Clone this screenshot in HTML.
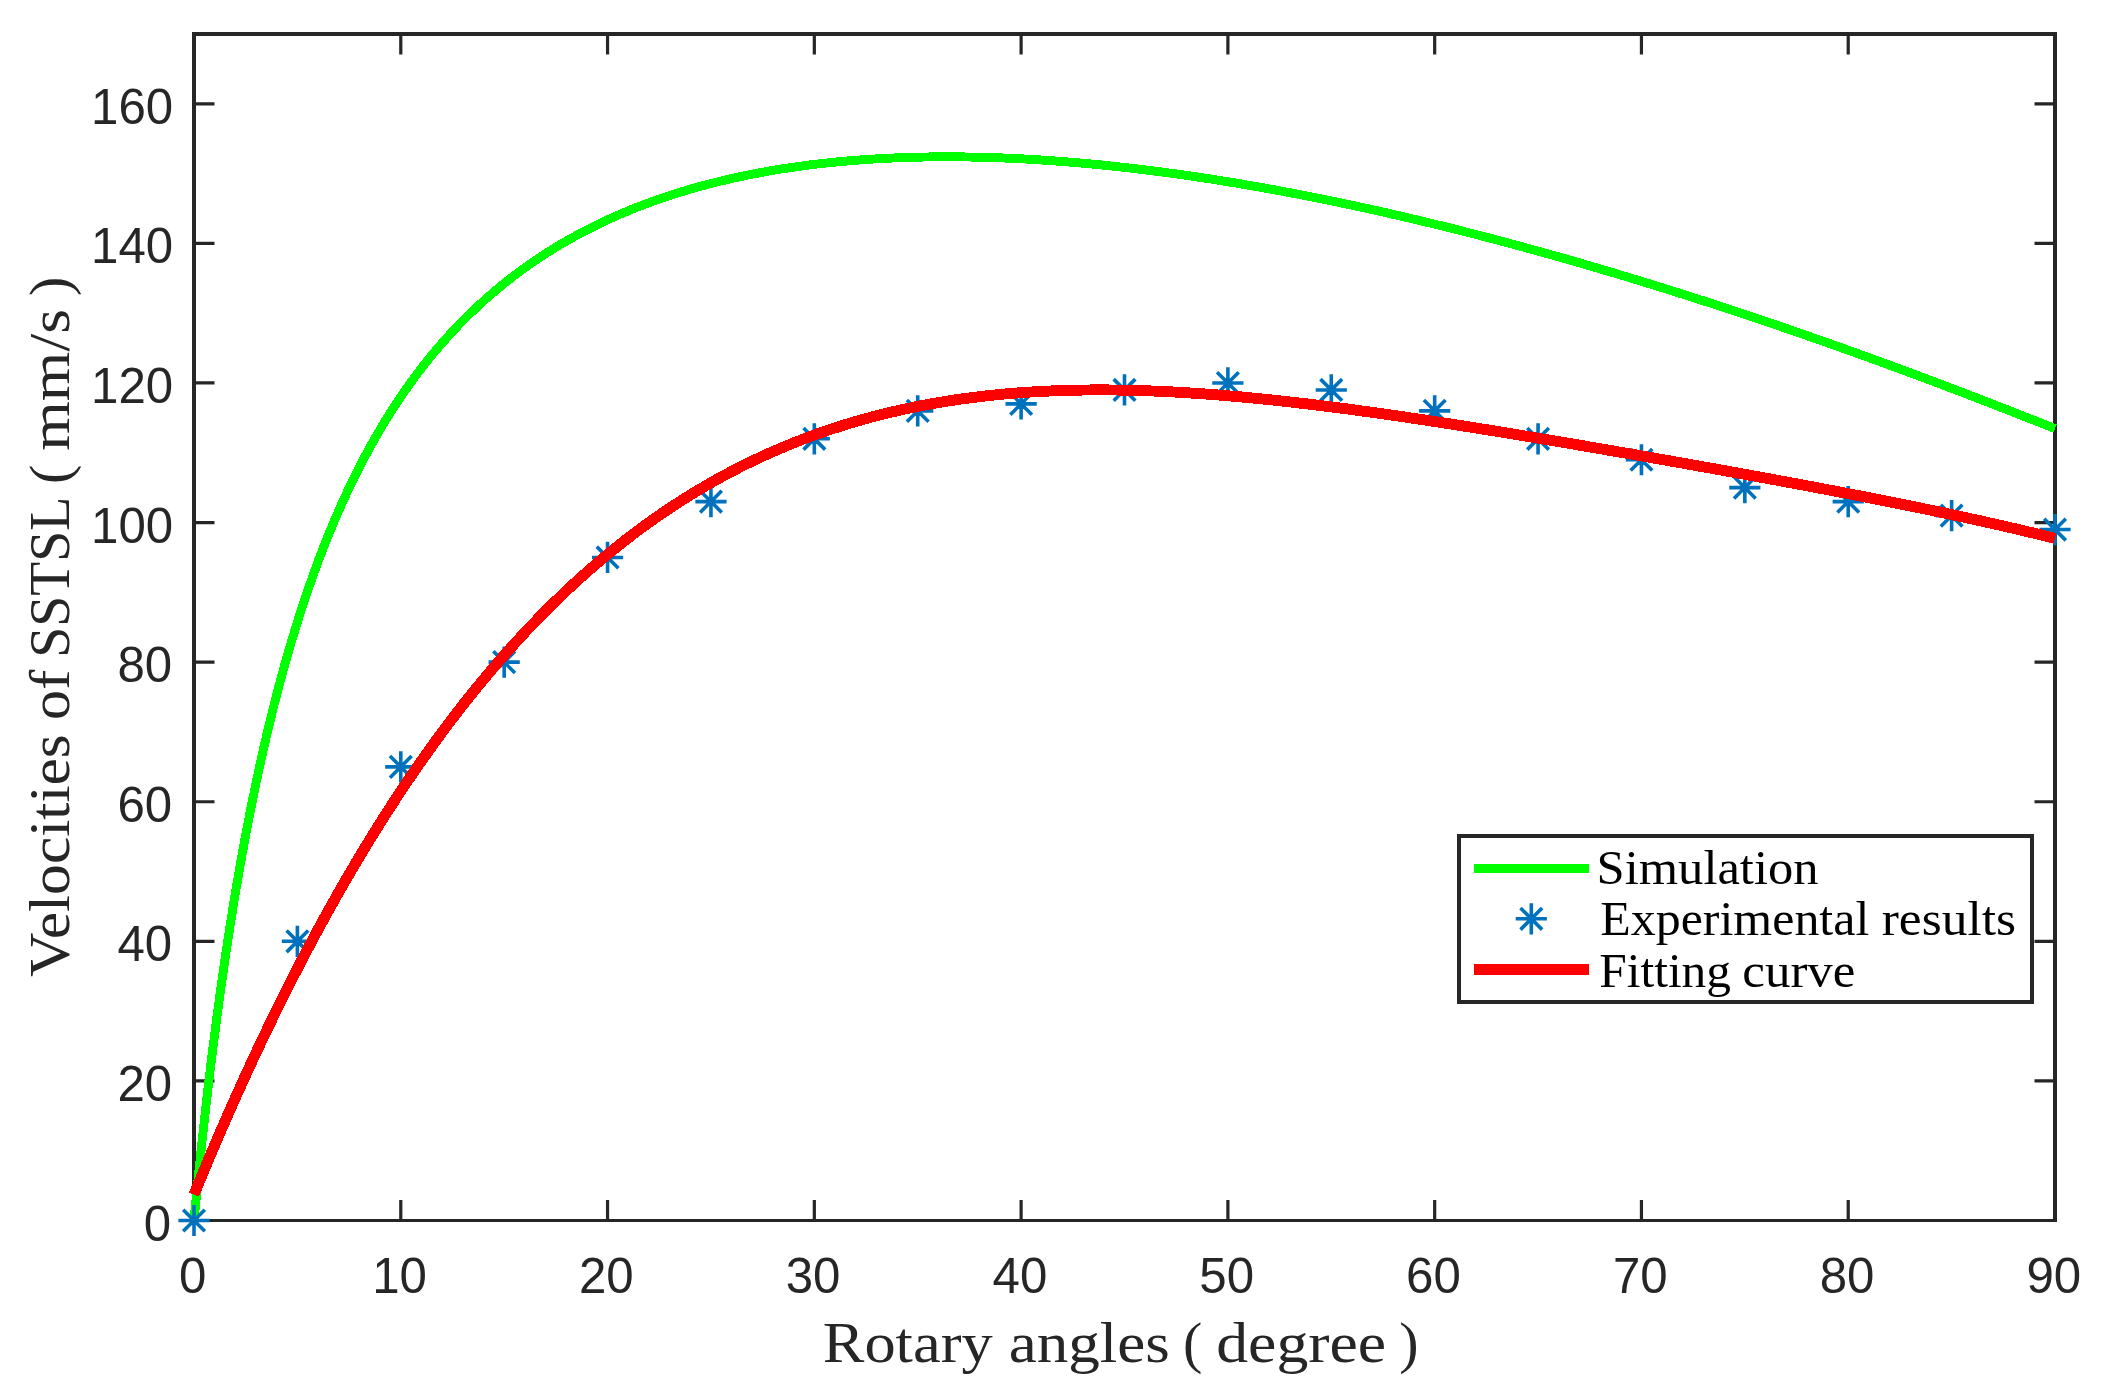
<!DOCTYPE html>
<html lang="en"><head><meta charset="utf-8"><title>Velocities of SSTSL vs rotary angles</title>
<style>html,body{margin:0;padding:0;background:#fff}body{width:2102px;height:1393px;overflow:hidden}svg{display:block}.tk{font-family:"Liberation Sans",Arial,Helvetica,sans-serif;font-size:49.2px;fill:#262626}.lb{font-family:"Liberation Serif","DejaVu Serif",serif;fill:#262626}.lg{font-family:"Liberation Serif","DejaVu Serif",serif;fill:#000}</style></head><body>
<svg width="2102" height="1393" viewBox="0 0 2102 1393">
<rect width="2102" height="1393" fill="#fff"/>
<g stroke="#262626" fill="none" shape-rendering="crispEdges">
<rect x="194.00" y="34.00" width="1861.00" height="1186.50" stroke-width="3.6"/>
<path d="M400.78,1220.50 v-20.50 M400.78,34.00 v20.50 M607.56,1220.50 v-20.50 M607.56,34.00 v20.50 M814.33,1220.50 v-20.50 M814.33,34.00 v20.50 M1021.11,1220.50 v-20.50 M1021.11,34.00 v20.50 M1227.89,1220.50 v-20.50 M1227.89,34.00 v20.50 M1434.67,1220.50 v-20.50 M1434.67,34.00 v20.50 M1641.44,1220.50 v-20.50 M1641.44,34.00 v20.50 M1848.22,1220.50 v-20.50 M1848.22,34.00 v20.50 M194.00,1080.91 h20.50 M2055.00,1080.91 h-20.50 M194.00,941.32 h20.50 M2055.00,941.32 h-20.50 M194.00,801.74 h20.50 M2055.00,801.74 h-20.50 M194.00,662.15 h20.50 M2055.00,662.15 h-20.50 M194.00,522.56 h20.50 M2055.00,522.56 h-20.50 M194.00,382.97 h20.50 M2055.00,382.97 h-20.50 M194.00,243.38 h20.50 M2055.00,243.38 h-20.50 M194.00,103.79 h20.50 M2055.00,103.79 h-20.50" stroke-width="3.2" shape-rendering="geometricPrecision"/>
</g>
<path d="M194.00,1220.50 L194.01,1220.38 L194.05,1220.01 L194.11,1219.40 L194.19,1218.55 L194.29,1217.45 L194.42,1216.11 L194.57,1214.54 L194.75,1212.72 L194.95,1210.67 L195.17,1208.38 L195.41,1205.87 L195.68,1203.12 L195.98,1200.15 L196.29,1196.96 L196.63,1193.54 L196.99,1189.91 L197.38,1186.07 L197.79,1182.02 L198.22,1177.77 L198.68,1173.31 L199.16,1168.66 L199.66,1163.82 L200.18,1158.79 L200.73,1153.58 L201.31,1148.20 L201.90,1142.64 L202.52,1136.91 L203.16,1131.02 L203.83,1124.98 L204.52,1118.79 L205.23,1112.45 L205.97,1105.97 L206.73,1099.35 L207.51,1092.61 L208.32,1085.74 L209.15,1078.75 L210.00,1071.65 L210.88,1064.44 L211.78,1057.13 L212.70,1049.72 L213.65,1042.22 L214.62,1034.64 L215.61,1026.97 L216.63,1019.23 L217.67,1011.42 L218.74,1003.54 L219.82,995.60 L220.93,987.60 L222.07,979.55 L223.22,971.46 L224.40,963.33 L225.61,955.15 L226.84,946.95 L228.09,938.72 L229.36,930.46 L230.66,922.18 L231.98,913.89 L233.32,905.58 L234.69,897.27 L236.08,888.95 L237.50,880.63 L238.93,872.31 L240.40,863.99 L241.88,855.69 L243.39,847.40 L244.92,839.12 L246.47,830.86 L248.05,822.62 L249.65,814.41 L251.28,806.21 L252.93,798.05 L254.60,789.92 L256.29,781.82 L258.01,773.76 L259.75,765.74 L261.52,757.75 L263.31,749.80 L265.12,741.90 L266.95,734.04 L268.81,726.23 L270.70,718.46 L272.60,710.75 L274.53,703.08 L276.48,695.47 L278.46,687.91 L280.46,680.40 L282.48,672.95 L284.52,665.55 L286.59,658.22 L288.69,650.93 L290.80,643.71 L292.94,636.55 L295.10,629.45 L297.29,622.40 L299.50,615.42 L301.73,608.50 L303.99,601.64 L306.27,594.85 L308.57,588.12 L310.90,581.45 L313.25,574.84 L315.62,568.30 L318.02,561.82 L320.43,555.40 L322.88,549.05 L325.34,542.76 L327.83,536.54 L330.35,530.38 L332.88,524.29 L335.44,518.26 L338.03,512.29 L340.63,506.39 L343.26,500.55 L345.92,494.77 L348.60,489.06 L351.30,483.41 L354.02,477.83 L356.77,472.30 L359.54,466.84 L362.33,461.45 L365.15,456.11 L367.99,450.84 L370.85,445.62 L373.74,440.47 L376.65,435.38 L379.58,430.35 L382.54,425.38 L385.52,420.47 L388.53,415.62 L391.55,410.82 L394.61,406.09 L397.68,401.41 L400.78,396.80 L403.90,392.24 L407.04,387.73 L410.21,383.29 L413.40,378.90 L416.62,374.56 L419.86,370.28 L423.12,366.06 L426.40,361.89 L429.71,357.77 L433.04,353.71 L436.40,349.70 L439.77,345.74 L443.18,341.84 L446.60,337.99 L450.05,334.19 L453.52,330.44 L457.02,326.74 L460.54,323.10 L464.08,319.50 L467.64,315.95 L471.23,312.45 L474.84,309.00 L478.48,305.60 L482.14,302.25 L485.82,298.94 L489.53,295.68 L493.25,292.47 L497.01,289.30 L500.78,286.18 L504.58,283.11 L508.40,280.08 L512.25,277.09 L516.12,274.15 L520.01,271.26 L523.93,268.41 L527.87,265.60 L531.83,262.83 L535.82,260.11 L539.83,257.43 L543.86,254.79 L547.92,252.19 L551.99,249.63 L556.10,247.12 L560.22,244.64 L564.37,242.21 L568.55,239.82 L572.74,237.46 L576.96,235.15 L581.21,232.87 L585.47,230.63 L589.76,228.43 L594.08,226.27 L598.41,224.15 L602.77,222.06 L607.16,220.02 L611.57,218.01 L616.00,216.03 L620.45,214.09 L624.93,212.19 L629.43,210.33 L633.95,208.50 L638.50,206.70 L643.07,204.94 L647.66,203.22 L652.28,201.53 L656.92,199.88 L661.59,198.26 L666.27,196.67 L670.98,195.12 L675.72,193.60 L680.48,192.11 L685.26,190.66 L690.06,189.24 L694.89,187.86 L699.74,186.50 L704.61,185.18 L709.51,183.89 L714.43,182.64 L719.38,181.41 L724.35,180.22 L729.34,179.06 L734.35,177.93 L739.39,176.83 L744.45,175.76 L749.54,174.72 L754.65,173.72 L759.78,172.74 L764.93,171.80 L770.11,170.88 L775.31,170.00 L780.54,169.14 L785.79,168.32 L791.06,167.52 L796.35,166.75 L801.67,166.02 L807.02,165.31 L812.38,164.63 L817.77,163.98 L823.18,163.36 L828.62,162.77 L834.08,162.21 L839.56,161.67 L845.07,161.17 L850.59,160.69 L856.15,160.24 L861.72,159.82 L867.32,159.43 L872.95,159.07 L878.59,158.73 L884.26,158.42 L889.95,158.14 L895.67,157.89 L901.41,157.66 L907.17,157.46 L912.96,157.29 L918.77,157.15 L924.60,157.03 L930.46,156.94 L936.34,156.88 L942.24,156.84 L948.17,156.83 L954.12,156.85 L960.09,156.90 L966.09,156.97 L972.11,157.07 L978.15,157.19 L984.22,157.35 L990.31,157.52 L996.42,157.73 L1002.56,157.96 L1008.72,158.22 L1014.90,158.50 L1021.11,158.81 L1027.34,159.15 L1033.60,159.51 L1039.87,159.90 L1046.17,160.32 L1052.50,160.76 L1058.85,161.23 L1065.22,161.72 L1071.61,162.24 L1078.03,162.78 L1084.47,163.35 L1090.93,163.95 L1097.42,164.57 L1103.93,165.22 L1110.47,165.90 L1117.02,166.60 L1123.61,167.32 L1130.21,168.08 L1136.84,168.85 L1143.49,169.66 L1150.16,170.49 L1156.86,171.34 L1163.58,172.22 L1170.33,173.13 L1177.10,174.06 L1183.89,175.01 L1190.70,176.00 L1197.54,177.01 L1204.40,178.04 L1211.29,179.10 L1218.20,180.18 L1225.13,181.29 L1232.09,182.43 L1239.06,183.59 L1246.07,184.78 L1253.09,185.99 L1260.14,187.23 L1267.21,188.49 L1274.31,189.78 L1281.43,191.09 L1288.57,192.43 L1295.74,193.80 L1302.92,195.19 L1310.14,196.60 L1317.37,198.04 L1324.63,199.51 L1331.91,201.00 L1339.22,202.52 L1346.55,204.06 L1353.90,205.63 L1361.28,207.23 L1368.68,208.85 L1376.10,210.49 L1383.55,212.16 L1391.02,213.86 L1398.51,215.58 L1406.03,217.32 L1413.57,219.10 L1421.13,220.89 L1428.72,222.72 L1436.33,224.57 L1443.96,226.44 L1451.62,228.34 L1459.30,230.26 L1467.00,232.22 L1474.73,234.19 L1482.48,236.19 L1490.25,238.22 L1498.05,240.27 L1505.87,242.35 L1513.71,244.45 L1521.58,246.58 L1529.47,248.74 L1537.38,250.92 L1545.32,253.12 L1553.28,255.36 L1561.27,257.61 L1569.27,259.90 L1577.30,262.20 L1585.36,264.54 L1593.44,266.90 L1601.54,269.28 L1609.66,271.69 L1617.81,274.13 L1625.98,276.59 L1634.17,279.08 L1642.39,281.59 L1650.63,284.13 L1658.90,286.70 L1667.18,289.29 L1675.50,291.90 L1683.83,294.54 L1692.19,297.21 L1700.57,299.90 L1708.98,302.62 L1717.40,305.36 L1725.86,308.13 L1734.33,310.93 L1742.83,313.75 L1751.35,316.60 L1759.90,319.47 L1768.46,322.37 L1777.06,325.29 L1785.67,328.24 L1794.31,331.22 L1802.97,334.22 L1811.66,337.24 L1820.37,340.29 L1829.10,343.37 L1837.85,346.48 L1846.63,349.61 L1855.43,352.76 L1864.26,355.94 L1873.11,359.15 L1881.98,362.38 L1890.88,365.64 L1899.80,368.92 L1908.74,372.23 L1917.71,375.56 L1926.69,378.92 L1935.71,382.31 L1944.74,385.72 L1953.80,389.16 L1962.89,392.62 L1971.99,396.11 L1981.12,399.62 L1990.27,403.16 L1999.45,406.72 L2008.65,410.31 L2017.87,413.93 L2027.12,417.57 L2036.39,421.24 L2045.68,424.93 L2055.00,428.65" fill="none" stroke="#00ff00" stroke-width="8.9" stroke-linejoin="round" shape-rendering="crispEdges"/>
<path d="M178.40,1220.50 h31.20 M194.00,1204.90 v31.20 M183.18,1209.68 l21.64,21.64 M183.18,1231.32 l21.64,-21.64 M281.79,941.32 h31.20 M297.39,925.72 v31.20 M286.57,930.50 l21.64,21.64 M286.57,952.14 l21.64,-21.64 M385.18,766.84 h31.20 M400.78,751.24 v31.20 M389.96,756.02 l21.64,21.64 M389.96,777.66 l21.64,-21.64 M488.57,662.15 h31.20 M504.17,646.55 v31.20 M493.35,651.33 l21.64,21.64 M493.35,672.97 l21.64,-21.64 M591.96,557.46 h31.20 M607.56,541.86 v31.20 M596.74,546.64 l21.64,21.64 M596.74,568.27 l21.64,-21.64 M695.34,501.62 h31.20 M710.94,486.02 v31.20 M700.13,490.80 l21.64,21.64 M700.13,512.44 l21.64,-21.64 M798.73,438.81 h31.20 M814.33,423.21 v31.20 M803.51,427.99 l21.64,21.64 M803.51,449.62 l21.64,-21.64 M902.12,410.89 h31.20 M917.72,395.29 v31.20 M906.90,400.07 l21.64,21.64 M906.90,421.71 l21.64,-21.64 M1005.51,403.91 h31.20 M1021.11,388.31 v31.20 M1010.29,393.09 l21.64,21.64 M1010.29,414.73 l21.64,-21.64 M1108.90,389.95 h31.20 M1124.50,374.35 v31.20 M1113.68,379.13 l21.64,21.64 M1113.68,400.77 l21.64,-21.64 M1212.29,382.97 h31.20 M1227.89,367.37 v31.20 M1217.07,372.15 l21.64,21.64 M1217.07,393.79 l21.64,-21.64 M1315.68,389.95 h31.20 M1331.28,374.35 v31.20 M1320.46,379.13 l21.64,21.64 M1320.46,400.77 l21.64,-21.64 M1419.07,410.89 h31.20 M1434.67,395.29 v31.20 M1423.85,400.07 l21.64,21.64 M1423.85,421.71 l21.64,-21.64 M1522.46,438.81 h31.20 M1538.06,423.21 v31.20 M1527.24,427.99 l21.64,21.64 M1527.24,449.62 l21.64,-21.64 M1625.84,459.74 h31.20 M1641.44,444.14 v31.20 M1630.63,448.93 l21.64,21.64 M1630.63,470.56 l21.64,-21.64 M1729.23,487.66 h31.20 M1744.83,472.06 v31.20 M1734.01,476.84 l21.64,21.64 M1734.01,498.48 l21.64,-21.64 M1832.62,501.62 h31.20 M1848.22,486.02 v31.20 M1837.40,490.80 l21.64,21.64 M1837.40,512.44 l21.64,-21.64 M1936.01,515.58 h31.20 M1951.61,499.98 v31.20 M1940.79,504.76 l21.64,21.64 M1940.79,526.40 l21.64,-21.64 M2039.40,529.54 h31.20 M2055.00,513.94 v31.20 M2044.18,518.72 l21.64,21.64 M2044.18,540.36 l21.64,-21.64" fill="none" stroke="#0072bd" stroke-width="3.6"/>
<path d="M194.00,1194.56 L200.22,1179.45 L206.45,1164.54 L212.67,1149.84 L218.90,1135.33 L225.12,1121.02 L231.34,1106.90 L237.57,1092.98 L243.79,1079.24 L250.02,1065.70 L256.24,1052.34 L262.46,1039.17 L268.69,1026.18 L274.91,1013.38 L281.14,1000.76 L287.36,988.32 L293.59,976.05 L299.81,963.96 L306.03,952.05 L312.26,940.31 L318.48,928.74 L324.71,917.34 L330.93,906.12 L337.15,895.05 L343.38,884.16 L349.60,873.42 L355.83,862.85 L362.05,852.44 L368.27,842.20 L374.50,832.10 L380.72,822.17 L386.95,812.39 L393.17,802.76 L399.39,793.29 L405.62,783.96 L411.84,774.79 L418.07,765.76 L424.29,756.88 L430.52,748.14 L436.74,739.55 L442.96,731.10 L449.19,722.79 L455.41,714.62 L461.64,706.58 L467.86,698.69 L474.08,690.92 L480.31,683.29 L486.53,675.80 L492.76,668.43 L498.98,661.20 L505.20,654.09 L511.43,647.11 L517.65,640.25 L523.88,633.52 L530.10,626.91 L536.32,620.42 L542.55,614.05 L548.77,607.80 L555.00,601.67 L561.22,595.66 L567.44,589.76 L573.67,583.97 L579.89,578.30 L586.12,572.73 L592.34,567.28 L598.57,561.94 L604.79,556.70 L611.01,551.57 L617.24,546.55 L623.46,541.63 L629.69,536.81 L635.91,532.09 L642.13,527.47 L648.36,522.95 L654.58,518.53 L660.81,514.21 L667.03,509.98 L673.25,505.85 L679.48,501.81 L685.70,497.86 L691.93,494.00 L698.15,490.24 L704.37,486.56 L710.60,482.97 L716.82,479.46 L723.05,476.04 L729.27,472.71 L735.49,469.45 L741.72,466.28 L747.94,463.20 L754.17,460.19 L760.39,457.26 L766.62,454.41 L772.84,451.63 L779.06,448.93 L785.29,446.31 L791.51,443.76 L797.74,441.28 L803.96,438.87 L810.18,436.54 L816.41,434.27 L822.63,432.08 L828.86,429.95 L835.08,427.89 L841.30,425.89 L847.53,423.96 L853.75,422.09 L859.98,420.29 L866.20,418.55 L872.42,416.87 L878.65,415.25 L884.87,413.69 L891.10,412.18 L897.32,410.74 L903.55,409.35 L909.77,408.02 L915.99,406.74 L922.22,405.52 L928.44,404.35 L934.67,403.23 L940.89,402.16 L947.11,401.15 L953.34,400.18 L959.56,399.27 L965.79,398.40 L972.01,397.58 L978.23,396.80 L984.46,396.07 L990.68,395.39 L996.91,394.75 L1003.13,394.15 L1009.35,393.60 L1015.58,393.09 L1021.80,392.62 L1028.03,392.19 L1034.25,391.80 L1040.47,391.45 L1046.70,391.14 L1052.92,390.86 L1059.15,390.62 L1065.37,390.42 L1071.60,390.25 L1077.82,390.12 L1084.04,390.02 L1090.27,389.96 L1096.49,389.92 L1102.72,389.92 L1108.94,389.96 L1115.16,390.02 L1121.39,390.11 L1127.61,390.23 L1133.84,390.38 L1140.06,390.56 L1146.28,390.77 L1152.51,391.00 L1158.73,391.26 L1164.96,391.55 L1171.18,391.86 L1177.40,392.20 L1183.63,392.56 L1189.85,392.94 L1196.08,393.35 L1202.30,393.78 L1208.53,394.23 L1214.75,394.70 L1220.97,395.19 L1227.20,395.71 L1233.42,396.24 L1239.65,396.80 L1245.87,397.37 L1252.09,397.96 L1258.32,398.57 L1264.54,399.19 L1270.77,399.84 L1276.99,400.50 L1283.21,401.17 L1289.44,401.87 L1295.66,402.57 L1301.89,403.29 L1308.11,404.03 L1314.33,404.78 L1320.56,405.54 L1326.78,406.32 L1333.01,407.11 L1339.23,407.91 L1345.45,408.73 L1351.68,409.55 L1357.90,410.39 L1364.13,411.24 L1370.35,412.10 L1376.58,412.96 L1382.80,413.84 L1389.02,414.73 L1395.25,415.63 L1401.47,416.54 L1407.70,417.45 L1413.92,418.38 L1420.14,419.31 L1426.37,420.25 L1432.59,421.19 L1438.82,422.15 L1445.04,423.11 L1451.26,424.08 L1457.49,425.05 L1463.71,426.03 L1469.94,427.02 L1476.16,428.01 L1482.38,429.01 L1488.61,430.01 L1494.83,431.02 L1501.06,432.03 L1507.28,433.05 L1513.51,434.08 L1519.73,435.10 L1525.95,436.13 L1532.18,437.17 L1538.40,438.21 L1544.63,439.25 L1550.85,440.30 L1557.07,441.35 L1563.30,442.40 L1569.52,443.46 L1575.75,444.52 L1581.97,445.58 L1588.19,446.65 L1594.42,447.72 L1600.64,448.79 L1606.87,449.87 L1613.09,450.94 L1619.31,452.02 L1625.54,453.11 L1631.76,454.19 L1637.99,455.28 L1644.21,456.37 L1650.43,457.46 L1656.66,458.55 L1662.88,459.65 L1669.11,460.75 L1675.33,461.85 L1681.56,462.96 L1687.78,464.06 L1694.00,465.17 L1700.23,466.28 L1706.45,467.40 L1712.68,468.51 L1718.90,469.63 L1725.12,470.75 L1731.35,471.88 L1737.57,473.01 L1743.80,474.14 L1750.02,475.27 L1756.24,476.41 L1762.47,477.55 L1768.69,478.69 L1774.92,479.84 L1781.14,480.99 L1787.36,482.14 L1793.59,483.30 L1799.81,484.46 L1806.04,485.62 L1812.26,486.79 L1818.48,487.97 L1824.71,489.15 L1830.93,490.33 L1837.16,491.52 L1843.38,492.72 L1849.61,493.92 L1855.83,495.12 L1862.05,496.33 L1868.28,497.55 L1874.50,498.77 L1880.73,500.00 L1886.95,501.24 L1893.17,502.49 L1899.40,503.74 L1905.62,505.00 L1911.85,506.27 L1918.07,507.54 L1924.29,508.83 L1930.52,510.12 L1936.74,511.42 L1942.97,512.73 L1949.19,514.05 L1955.41,515.38 L1961.64,516.73 L1967.86,518.08 L1974.09,519.44 L1980.31,520.82 L1986.54,522.21 L1992.76,523.60 L1998.98,525.02 L2005.21,526.44 L2011.43,527.88 L2017.66,529.33 L2023.88,530.80 L2030.10,532.28 L2036.33,533.77 L2042.55,535.29 L2048.78,536.81 L2055.00,538.36" fill="none" stroke="#ff0000" stroke-width="10.9" stroke-linejoin="round" shape-rendering="crispEdges"/>
<g class="tk" text-anchor="middle">
<text x="192.80" y="1292.8">0</text>
<text x="399.58" y="1292.8">10</text>
<text x="606.36" y="1292.8">20</text>
<text x="813.13" y="1292.8">30</text>
<text x="1019.91" y="1292.8">40</text>
<text x="1226.69" y="1292.8">50</text>
<text x="1433.47" y="1292.8">60</text>
<text x="1640.24" y="1292.8">70</text>
<text x="1847.02" y="1292.8">80</text>
<text x="2053.80" y="1292.8">90</text>
</g><g class="tk" text-anchor="end">
<text x="171.0" y="1241.00">0</text>
<text x="172.2" y="1101.00">20</text>
<text x="172.2" y="961.00">40</text>
<text x="172.2" y="822.00">60</text>
<text x="172.2" y="682.00">80</text>
<text x="173.2" y="543.00">100</text>
<text x="173.2" y="403.00">120</text>
<text x="173.2" y="263.00">140</text>
<text x="173.2" y="124.00">160</text>
</g>
<text class="lb" font-size="58" x="822.75" y="1362.00" textLength="169.90" lengthAdjust="spacingAndGlyphs">Rotary</text>
<text class="lb" font-size="58" x="1008.73" y="1362.00" textLength="161.14" lengthAdjust="spacingAndGlyphs">angles</text>
<text class="lb" font-size="58" x="1183.10" y="1362.00">(</text>
<text class="lb" font-size="58" x="1216.20" y="1362.00" textLength="170.00" lengthAdjust="spacingAndGlyphs">degree</text>
<text class="lb" font-size="58" x="1399.15" y="1362.00">)</text>
<text class="lb" font-size="58" transform="translate(69.2,976.96) rotate(-90)" textLength="242.79" lengthAdjust="spacingAndGlyphs">Velocities</text>
<text class="lb" font-size="58" transform="translate(69.2,719.98) rotate(-90)" textLength="50.22" lengthAdjust="spacingAndGlyphs">of</text>
<text class="lb" font-size="58" transform="translate(69.2,657.75) rotate(-90)" textLength="161.14" lengthAdjust="spacingAndGlyphs">SSTSL</text>
<text class="lb" font-size="58" transform="translate(69.2,483.90) rotate(-90)">(</text>
<text class="lb" font-size="58" transform="translate(69.2,450.80) rotate(-90)" textLength="141.81" lengthAdjust="spacingAndGlyphs">mm/s</text>
<text class="lb" font-size="58" transform="translate(69.2,296.00) rotate(-90)">)</text>
<rect x="1459" y="836" width="573" height="166" fill="#fff" stroke="#262626" stroke-width="4" shape-rendering="crispEdges"/>
<path d="M1474,868.5 H1589" stroke="#00ff00" stroke-width="9" shape-rendering="crispEdges"/>
<path d="M1474,969.4 H1589" stroke="#ff0000" stroke-width="11" shape-rendering="crispEdges"/>
<path d="M1515.70,918.80 h31.20 M1531.30,903.20 v31.20 M1520.48,907.98 l21.64,21.64 M1520.48,929.62 l21.64,-21.64" fill="none" stroke="#0072bd" stroke-width="3.6"/>
<text class="lg" font-size="48" x="1596.64" y="884.20" textLength="221.88" lengthAdjust="spacingAndGlyphs">Simulation</text>
<text class="lg" font-size="48" x="1600.26" y="935.40" textLength="269.03" lengthAdjust="spacingAndGlyphs">Experimental</text>
<text class="lg" font-size="48" x="1881.73" y="935.40" textLength="134.29" lengthAdjust="spacingAndGlyphs">results</text>
<text class="lg" font-size="48" x="1599.27" y="986.80" textLength="131.71" lengthAdjust="spacingAndGlyphs">Fitting</text>
<text class="lg" font-size="48" x="1742.38" y="986.80" textLength="113.01" lengthAdjust="spacingAndGlyphs">curve</text>
</svg></body></html>
